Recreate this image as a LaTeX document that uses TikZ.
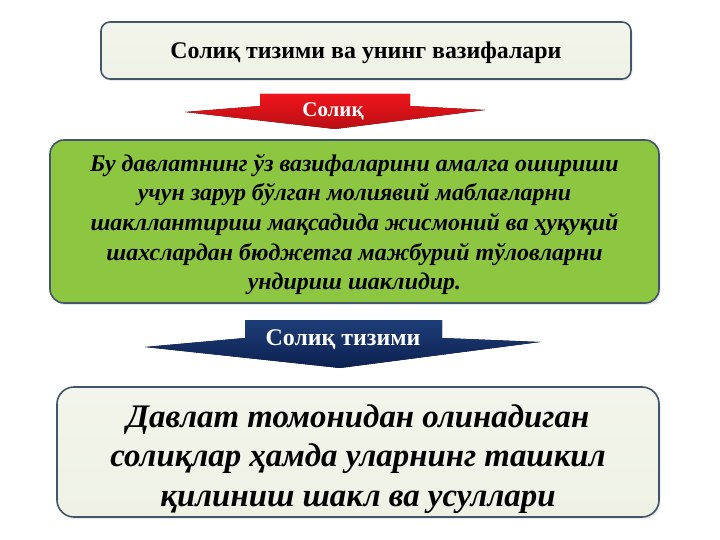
\documentclass[tikz,border=0pt]{standalone}
\usepackage{fontspec}
\setmainfont{Liberation Serif}
\usetikzlibrary{shadows}
\usetikzlibrary{positioning}

\definecolor{paleboxfill}{HTML}{EEF1E4}
\definecolor{paleboxtop}{HTML}{F3F5EC}
\definecolor{boxframe}{HTML}{435569}
\definecolor{leafgreen}{HTML}{8DC641}
\definecolor{taxred}{HTML}{F0151C}
\definecolor{taxdarkred}{HTML}{B80F14}
\definecolor{navytop}{HTML}{1E3D78}
\definecolor{navybottom}{HTML}{0C2150}

\tikzset{
  panel/.style={draw=boxframe, line width=1.6bp, rounded corners=14bp,
                drop shadow={opacity=0.18, shadow xshift=1.5bp, shadow yshift=-2bp}},
  tablabel/.style={text=white, font=\fontsize{21}{22}\selectfont\bfseries}
}

\begin{document}
\begin{tikzpicture}[x=1bp,y=-1bp]
        \useasboundingbox[fill=white] (0,0) rectangle (720,540);

        % title
        \node[panel, rounded corners=9bp, top color=paleboxtop, bottom color=paleboxfill,
              minimum width=530bp, minimum height=57bp] (title) at (366,50.5) {};
        \node[font=\fontsize{24}{28}\selectfont\bfseries] (titletext) at ([yshift=-2bp]title.center)
              {Солиқ тизими ва унинг вазифалари};

        % red arrow
        \fill[top color=taxred, bottom color=taxdarkred]
              (260,94) -- (410,94) -- (410,106) -- (485,110) -- (335,129)
              -- (185,112) -- (260,106) -- cycle;
        \node[tablabel] (tax) at (333,111) {Солиқ};

        % definition
        \node[panel, fill=leafgreen, minimum width=609bp, minimum height=163bp] (definition) at (354.5,221.5) {};
        \node[align=center, font=\fontsize{24}{29.8}\selectfont\bfseries\itshape] (definitiontext)
              at ([yshift=-3bp]definition.center)
              {Бу давлатнинг ўз вазифаларини амалга ошириши\\
               учун зарур бўлган молиявий маблағларни\\
               шакллантириш мақсадида жисмоний ва ҳуқуқий\\
               шахслардан бюджетга мажбурий тўловларни\\
               ундириш шаклидир.};

        % blue arrow
        \fill[top color=navytop, bottom color=navybottom]
              (245,320) -- (442,320) -- (442,338) -- (540,342) -- (340,368)
              -- (145,347) -- (245,338) -- cycle;
        \node[tablabel, font=\fontsize{24}{26}\selectfont\bfseries] (system) at (343,339.5) {Солиқ тизими};

        % tax system
        \node[panel, rounded corners=17bp, top color=paleboxtop, bottom color=paleboxfill,
              minimum width=602bp, minimum height=130bp] (taxsystem) at (358,452) {};
        \node[align=center, font=\fontsize{33}{39.5}\selectfont\bfseries\itshape] (taxsystemtext)
              at ([yshift=-7bp]taxsystem.center)
              {Давлат томонидан олинадиган\\
               солиқлар ҳамда уларнинг ташкил\\
               қилиниш шакл ва усуллари};
\end{tikzpicture}
\end{document}
